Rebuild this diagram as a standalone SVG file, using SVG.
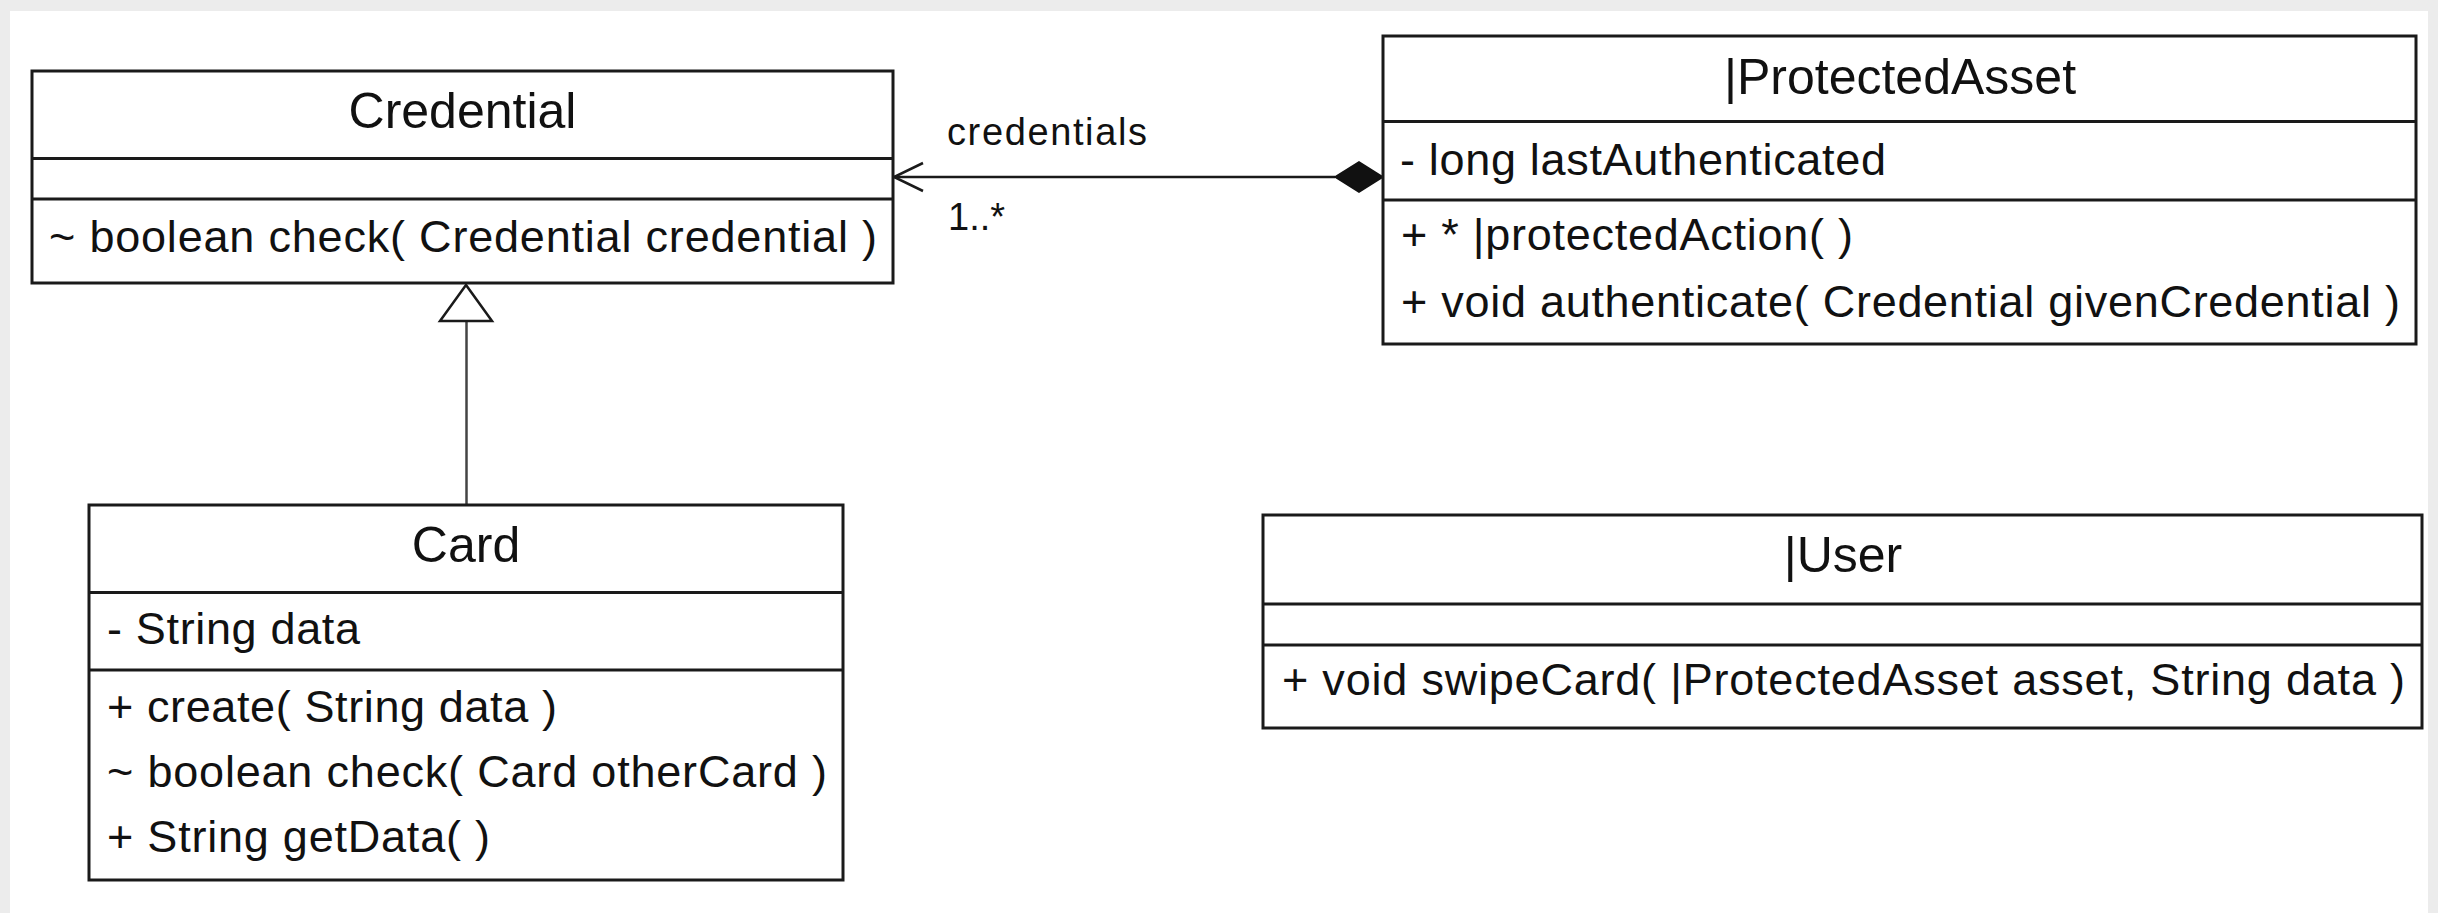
<svg xmlns="http://www.w3.org/2000/svg" width="2438" height="913" viewBox="0 0 2438 913">
<style>
.box{fill:#fff;stroke:#1a1a1a;stroke-width:3}
.sep{stroke:#1a1a1a;stroke-width:3}
.title{font-family:"Liberation Sans",Arial,sans-serif;font-size:50px;fill:#111;text-anchor:middle}
.mem{font-family:"Liberation Sans",Arial,sans-serif;font-size:45px;fill:#111}
.lbl{font-family:"Liberation Sans",Arial,sans-serif;font-size:38px;fill:#111}
.edge{stroke:#1a1a1a;stroke-width:2.5;fill:none}
</style>
<rect x="0" y="0" width="2438" height="913" fill="#ececec"/>
<rect x="10" y="11" width="2418" height="902" fill="#fff"/>
<g id="connectors">
  <line class="edge" x1="894" y1="177" x2="1335" y2="177"/>
  <polyline class="edge" points="923,163 894,177 923,191"/>
  <polygon points="1335,177 1359,162 1383,177 1359,192" fill="#111" stroke="#111" stroke-width="1.5"/>
  <line x1="466.5" y1="321" x2="466.5" y2="505" stroke="#444" stroke-width="2.5"/>
  <polygon points="466,285 440,321 492,321" fill="#fff" stroke="#1a1a1a" stroke-width="2.5"/>
  <text class="lbl" x="947" y="145" textLength="200" lengthAdjust="spacing">credentials</text>
  <text class="lbl" x="948" y="230" font-size="35">1..*</text>
</g>
<g id="Credential">
  <rect class="box" x="32" y="71" width="861" height="212"/>
  <line class="sep" x1="32" y1="158.5" x2="893" y2="158.5"/>
  <line class="sep" x1="32" y1="199" x2="893" y2="199"/>
  <text class="title" x="462.5" y="128">Credential</text>
  <text class="mem" x="49" y="252" textLength="828" lengthAdjust="spacing">~ boolean check( Credential credential )</text>
</g>
<g id="ProtectedAsset">
  <rect class="box" x="1383" y="36" width="1033" height="308"/>
  <line class="sep" x1="1383" y1="121.5" x2="2416" y2="121.5"/>
  <line class="sep" x1="1383" y1="200" x2="2416" y2="200"/>
  <text class="title" x="1900" y="94">|ProtectedAsset</text>
  <text class="mem" x="1400" y="175" textLength="486" lengthAdjust="spacing">- long lastAuthenticated</text>
  <text class="mem" x="1401" y="250" textLength="452" lengthAdjust="spacing">+ * |protectedAction( )</text>
  <text class="mem" x="1401" y="316.5" textLength="999" lengthAdjust="spacing">+ void authenticate( Credential givenCredential )</text>
</g>
<g id="Card">
  <rect class="box" x="89" y="505" width="754" height="375"/>
  <line class="sep" x1="89" y1="592.5" x2="843" y2="592.5"/>
  <line class="sep" x1="89" y1="670" x2="843" y2="670"/>
  <text class="title" x="466" y="562">Card</text>
  <text class="mem" x="107" y="644" textLength="253" lengthAdjust="spacing">- String data</text>
  <text class="mem" x="107" y="721.5" textLength="450" lengthAdjust="spacing">+ create( String data )</text>
  <text class="mem" x="107" y="786.5" textLength="720" lengthAdjust="spacing">~ boolean check( Card otherCard )</text>
  <text class="mem" x="107" y="851.5" textLength="383" lengthAdjust="spacing">+ String getData( )</text>
</g>
<g id="User">
  <rect class="box" x="1263" y="515" width="1159" height="213"/>
  <line class="sep" x1="1263" y1="604" x2="2422" y2="604"/>
  <line class="sep" x1="1263" y1="645" x2="2422" y2="645"/>
  <text class="title" x="1843" y="572">|User</text>
  <text class="mem" x="1282" y="695" textLength="1123" lengthAdjust="spacing">+ void swipeCard( |ProtectedAsset asset, String data )</text>
</g>
</svg>
